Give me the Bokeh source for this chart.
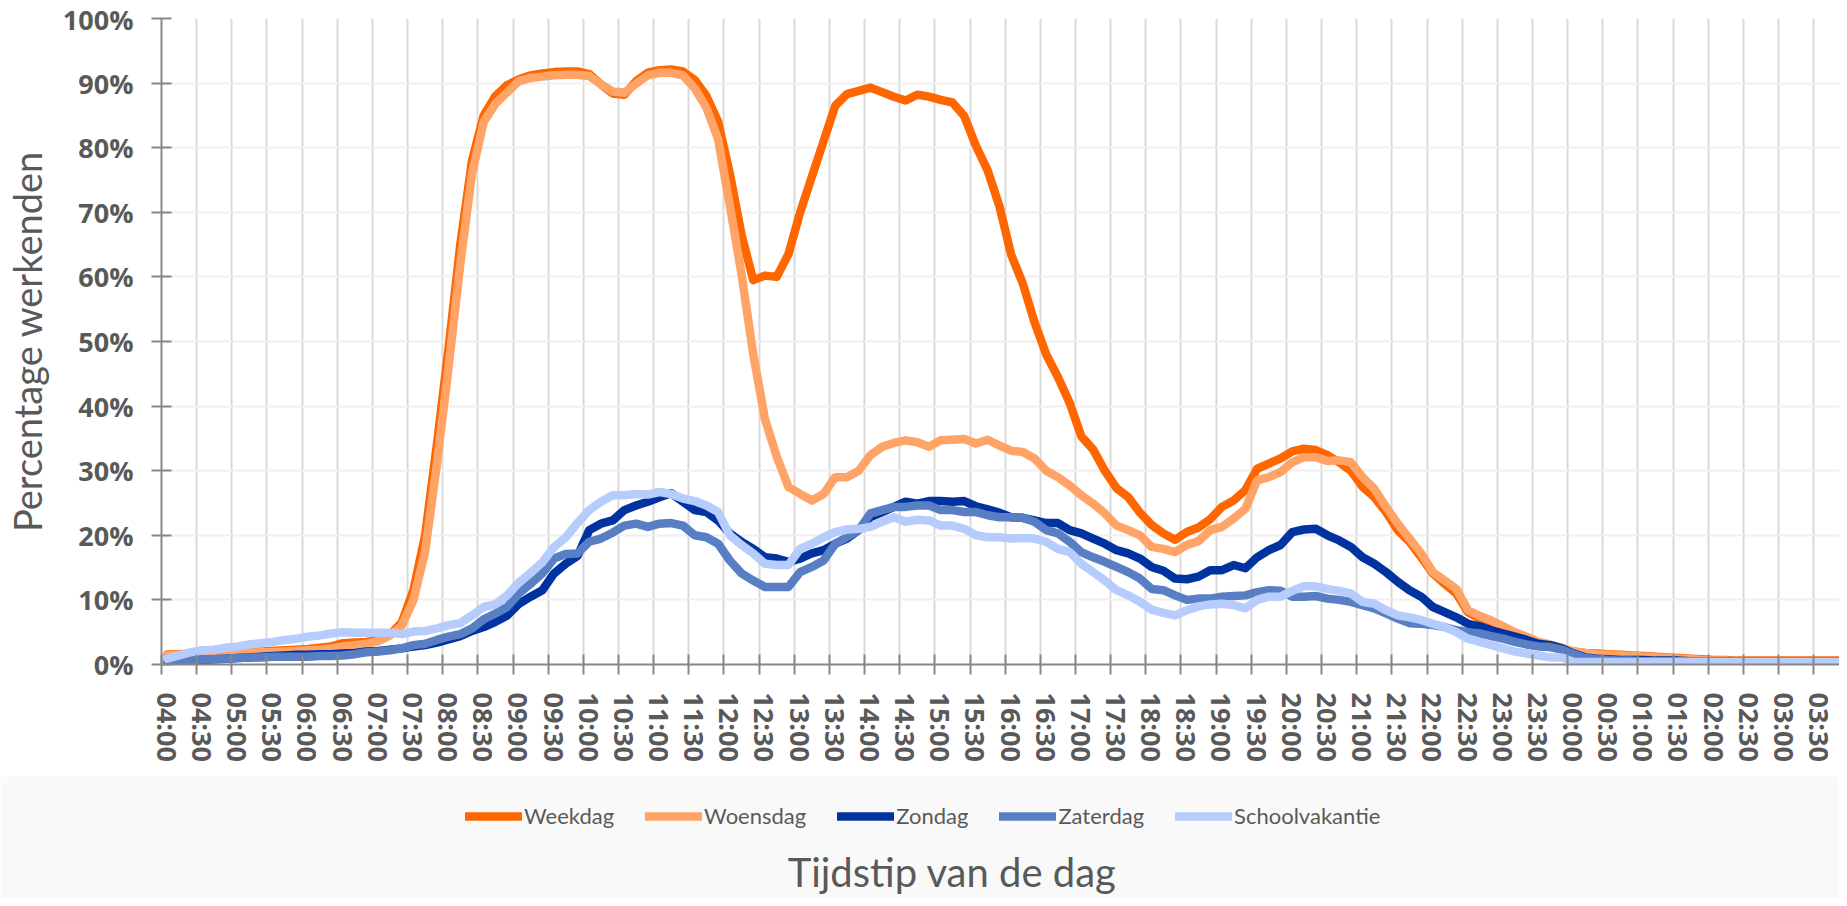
from bokeh.plotting import figure
from bokeh.layouts import column
from bokeh.models import (FixedTicker, Legend, LegendItem, Label,
                          PrintfTickFormatter, Range1d)
from bokeh.embed import file_html
from bokeh.resources import INLINE

# 10-minute slots from 04:00 to 03:50 (next day)
tick_labels = ["04:00", "04:30", "05:00", "05:30", "06:00", "06:30", "07:00", "07:30",
               "08:00", "08:30", "09:00", "09:30", "10:00", "10:30", "11:00", "11:30",
               "12:00", "12:30", "13:00", "13:30", "14:00", "14:30", "15:00", "15:30",
               "16:00", "16:30", "17:00", "17:30", "18:00", "18:30", "19:00", "19:30",
               "20:00", "20:30", "21:00", "21:30", "22:00", "22:30", "23:00", "23:30",
               "00:00", "00:30", "01:00", "01:30", "02:00", "02:30", "03:00", "03:30"]

weekdag = [1.6, 1.6, 1.7, 1.7, 1.8, 1.8, 1.9, 2.0, 2.0, 2.1, 2.2, 2.3, 2.4, 2.6, 2.8, 3.3, 3.4, 3.5,
           3.8, 4.6, 6.5, 11.5, 20.0, 34.0, 49.0, 65.0, 78.0, 85.0, 88.0, 89.7,
           90.6, 91.2, 91.5, 91.7, 91.8, 91.8, 91.4, 89.8, 88.4, 88.2, 90.3, 91.6, 92.0, 92.1, 91.8, 90.5, 88.0, 84.0, 76.0, 66.5, 59.5, 60.2, 60.0, 63.5,
           70.0, 75.5, 81.0, 86.5, 88.3, 88.8, 89.3, 88.6, 87.9, 87.3, 88.2, 87.9, 87.4, 87.0, 84.9, 80.3, 76.5, 71.0, 63.5, 59.0, 53.0, 48.0, 44.5, 40.5, 35.3, 33.3, 30.0, 27.3, 25.9, 23.5, 21.6, 20.3, 19.3, 20.5, 21.2, 22.5,
           24.4, 25.4, 27.0, 30.3, 31.1, 31.9, 33.0, 33.4, 33.2, 32.4, 31.3, 30.0, 27.5, 25.9, 23.6, 20.8, 19.0, 16.6, 14.1, 12.5, 11.0, 8.1, 7.1, 6.3, 5.6, 4.8, 4.0, 3.2, 3.0, 2.5, 2.0, 1.8, 1.7, 1.6, 1.5, 1.4,
           1.3, 1.2, 1.1, 1.0, 0.9, 0.8, 0.7, 0.7, 0.6, 0.6, 0.6, 0.6, 0.6, 0.6, 0.6, 0.6, 0.6, 0.6]

woensdag = [1.5, 1.5, 1.6, 1.6, 1.7, 1.7, 1.8, 1.8, 1.9, 1.9, 2.0, 2.1, 2.2, 2.3, 2.5, 2.8, 3.0, 3.2,
            3.6, 4.5, 6.0, 10.0, 17.5, 31.0, 46.0, 62.0, 76.0, 84.0, 86.8, 88.6,
            90.3, 90.8, 91.0, 91.2, 91.3, 91.3, 91.1, 89.8, 88.7, 88.5, 89.9, 91.2, 91.6, 91.6, 91.2, 89.2, 86.2, 81.3, 71.1, 60.4, 48.0, 38.0, 32.2, 27.5,
            26.4, 25.4, 26.4, 29.0, 29.0, 30.0, 32.4, 33.7, 34.3, 34.7, 34.4, 33.7, 34.7, 34.8, 34.9, 34.2, 34.8, 33.9, 33.1, 32.9, 31.9, 30.0, 29.0, 27.7, 26.2, 24.9, 23.4, 21.5, 20.8, 20.0, 18.2, 17.9, 17.4, 18.5, 19.1, 20.8,
            21.3, 22.6, 24.1, 28.5, 29.0, 29.8, 31.3, 32.1, 32.1, 31.5, 31.6, 31.3, 29.0, 27.2, 24.4, 21.8, 19.5, 17.2, 14.3, 13.0, 11.7, 8.4, 7.5, 6.8, 5.9, 5.0, 4.3, 3.5, 3.1, 2.6, 2.0, 1.8, 1.6, 1.5, 1.4, 1.3,
            1.2, 1.1, 1.0, 0.9, 0.8, 0.7, 0.6, 0.6, 0.5, 0.5, 0.5, 0.5, 0.5, 0.5, 0.5, 0.5, 0.5, 0.5]

zondag = [0.4, 0.5, 0.6, 0.7, 0.8, 0.9, 1.0, 1.1, 1.2, 1.3, 1.4, 1.5, 1.5, 1.6, 1.6, 1.7, 1.8, 2.0,
          2.1, 2.3, 2.5, 2.8, 3.0, 3.4, 3.9, 4.4, 5.2, 5.8, 6.6, 7.6,
          9.4, 10.5, 11.5, 14.1, 15.6, 16.8, 20.8, 21.8, 22.3, 23.9, 24.6, 25.2, 25.9, 26.5, 25.2, 23.9, 23.6, 22.3, 20.3, 19.0, 17.9, 16.6, 16.4, 15.9,
          16.4, 17.2, 17.7, 18.7, 19.5, 20.8, 22.8, 23.6, 24.4, 25.2, 24.9, 25.3, 25.3, 25.2, 25.3, 24.5, 24.0, 23.5, 22.8, 22.7, 22.3, 21.9, 21.9, 20.8, 20.3, 19.5, 18.7, 17.7, 17.2, 16.4, 15.1, 14.5, 13.3, 13.2, 13.6, 14.6,
          14.6, 15.4, 14.9, 16.6, 17.7, 18.5, 20.5, 20.9, 21.0, 20.0, 19.2, 18.2, 16.6, 15.6, 14.3, 12.8, 11.5, 10.5, 8.9, 8.1, 7.3, 6.3, 5.9, 5.3, 4.8, 4.3, 3.8, 3.2, 3.0, 2.5, 1.7, 1.1, 0.9, 0.8, 0.7, 0.7,
          0.7, 0.6, 0.6, 0.6, 0.5, 0.5, 0.5, 0.5, 0.5, 0.5, 0.5, 0.5, 0.5, 0.5, 0.5, 0.5, 0.5, 0.5]

zaterdag = [0.6, 0.6, 0.7, 0.8, 0.8, 0.9, 1.0, 1.1, 1.1, 1.2, 1.2, 1.2, 1.2, 1.3, 1.3, 1.4, 1.6, 1.9,
            2.0, 2.2, 2.5, 3.0, 3.2, 3.8, 4.3, 4.7, 5.6, 7.0, 7.9, 8.9,
            11.0, 12.5, 14.1, 16.4, 17.1, 17.2, 19.0, 19.5, 20.4, 21.5, 21.8, 21.3, 21.8, 21.9, 21.5, 20.0, 19.7, 18.7, 16.1, 14.1, 13.0, 12.0, 12.0, 12.0,
            14.3, 15.1, 16.1, 18.7, 19.7, 20.8, 23.4, 23.9, 24.4, 24.4, 24.6, 24.6, 23.9, 23.9, 23.6, 23.6, 23.1, 22.8, 22.8, 22.7, 22.1, 20.8, 20.3, 19.0, 17.4, 16.6, 15.9, 15.1, 14.3, 13.3, 11.7, 11.5, 10.7, 10.0, 10.2, 10.2,
            10.5, 10.6, 10.7, 11.2, 11.5, 11.4, 10.5, 10.5, 10.6, 10.2, 10.0, 9.7, 9.2, 8.7, 7.9, 7.1, 6.4, 6.3, 6.1, 5.8, 5.3, 5.0, 4.8, 4.4, 4.0, 3.5, 3.1, 2.8, 2.7, 2.3, 1.6, 1.0, 0.8, 0.7, 0.6, 0.6,
            0.5, 0.5, 0.5, 0.5, 0.5, 0.5, 0.5, 0.5, 0.5, 0.5, 0.5, 0.5, 0.5, 0.5, 0.5, 0.5, 0.5, 0.5]

schoolvakantie = [0.9, 1.4, 1.9, 2.2, 2.3, 2.6, 2.8, 3.1, 3.3, 3.5, 3.8, 4.0, 4.3, 4.5, 4.8, 5.0, 4.9, 4.9,
                  4.9, 4.9, 4.7, 5.1, 5.2, 5.6, 6.1, 6.4, 7.6, 8.9, 9.3, 10.7,
                  12.7, 14.2, 15.8, 18.2, 19.7, 21.9, 23.9, 25.2, 26.2, 26.2, 26.4, 26.3, 26.7, 26.4, 25.7, 25.3, 24.6, 23.6, 20.0, 18.5, 17.2, 15.6, 15.4, 15.4,
                  17.9, 18.7, 19.7, 20.5, 20.9, 21.0, 21.3, 22.1, 22.8, 22.1, 22.4, 22.3, 21.5, 21.5, 21.0, 20.0, 19.7, 19.7, 19.5, 19.6, 19.5, 19.0, 17.9, 17.4, 15.6, 14.3, 13.0, 11.5, 10.7, 9.7, 8.5, 8.0, 7.6, 8.4, 9.0, 9.3,
                  9.4, 9.2, 8.7, 10.0, 10.5, 10.5, 11.4, 12.1, 12.1, 11.7, 11.4, 11.0, 9.7, 9.4, 8.4, 7.6, 7.3, 6.9, 6.3, 5.8, 5.0, 4.0, 3.5, 3.0, 2.5, 2.0, 1.7, 1.4, 1.1, 1.1, 0.4, 0.4, 0.4, 0.4, 0.4, 0.4,
                  0.4, 0.4, 0.4, 0.4, 0.4, 0.4, 0.4, 0.4, 0.4, 0.4, 0.4, 0.4, 0.4, 0.4, 0.4, 0.4, 0.4, 0.4]

series_names = ["Weekdag", "Woensdag", "Zondag", "Zaterdag", "Schoolvakantie"]
series_values = [weekdag, woensdag, zondag, zaterdag, schoolvakantie]
series_colors = ["#FF6600", "#FFA366", "#0033A0", "#587FC4", "#B6CCFC"]

slots = list(range(len(weekdag)))

TXT = "#595959"
AX = "#878787"
LW = 8.5

# ---------------- main chart ----------------
p = figure(width=1839, height=776, output_backend="svg", toolbar_location=None,
           x_range=Range1d(-0.5, 142.7), y_range=Range1d(0, 100),
           min_border_left=156, min_border_right=0, min_border_top=18,
           min_border_bottom=112)
p.outline_line_color = None
p.background_fill_color = "white"
p.border_fill_color = "white"

p.xgrid.ticker = FixedTicker(ticks=[3 * j - 0.5 for j in range(len(tick_labels))])
p.xgrid.grid_line_color = "#D9D9D9"
p.xgrid.grid_line_width = 2
p.ygrid.ticker = FixedTicker(ticks=list(range(0, 101, 10)))
p.ygrid.grid_line_color = "#EFEFEF"
p.ygrid.grid_line_width = 2

xa = p.xaxis[0]
xa.ticker = FixedTicker(ticks=[3 * j for j in range(len(tick_labels))],
                        minor_ticks=[3 * j - 0.5 for j in range(len(tick_labels))])
xa.major_label_overrides = {3 * j: lab for j, lab in enumerate(tick_labels)}
xa.major_label_orientation = "vertical"
xa.major_tick_line_color = None
xa.major_tick_in = 0
xa.major_tick_out = 0
xa.minor_tick_line_color = AX
xa.minor_tick_line_width = 2
xa.minor_tick_in = 10
xa.minor_tick_out = 10
xa.axis_line_color = AX
xa.axis_line_width = 2
xa.major_label_standoff = 18
xa.major_label_text_font = "Open Sans"
xa.major_label_text_font_style = "bold"
xa.major_label_text_font_size = "27px"
xa.major_label_text_color = TXT

ya = p.yaxis[0]
ya.ticker = FixedTicker(ticks=list(range(0, 101, 10)))
ya.formatter = PrintfTickFormatter(format="%d%%")
ya.major_tick_in = 10
ya.major_tick_out = 10
ya.major_tick_line_color = AX
ya.major_tick_line_width = 2
ya.minor_tick_line_color = None
ya.axis_line_color = AX
ya.axis_line_width = 2
ya.major_label_standoff = 18
ya.major_label_text_font = "Open Sans"
ya.major_label_text_font_style = "bold"
ya.major_label_text_font_size = "27px"
ya.major_label_text_color = TXT
ya.axis_label = "Percentage werkenden"
ya.axis_label_text_font = "Lato"
ya.axis_label_text_font_style = "normal"
ya.axis_label_text_font_size = "38px"
ya.axis_label_text_color = TXT
ya.axis_label_standoff = 10

for name, vals, col in zip(series_names, series_values, series_colors):
    p.line(slots, vals, line_color=col, line_width=LW,
           line_join="round", line_cap="round")

# ---------------- legend + x-axis title strip ----------------
# 1 data unit = 1 px; the series themselves lie outside this strip's y range,
# so only their legend glyphs show.
H2 = 122
q = figure(width=1839, height=H2, output_backend="svg", toolbar_location=None,
           x_range=Range1d(0, 1683), y_range=Range1d(200, 200 + H2),
           x_axis_location=None, y_axis_location=None,
           min_border_left=156, min_border_right=0, min_border_top=0,
           min_border_bottom=0)
q.outline_line_color = None
q.grid.visible = False
q.background_fill_color = "#F9F9F9"
q.border_fill_color = "#F9F9F9"

items = []
for name, vals, col in zip(series_names, series_values, series_colors):
    r = q.line(slots, vals, line_color=col, line_width=LW, line_cap="round")
    items.append(LegendItem(label=name, renderers=[r]))

legend = Legend(items=items, orientation="horizontal", location=(304, 69),
                glyph_width=57, glyph_height=26, label_standoff=2, spacing=31,
                padding=5, margin=0, border_line_color=None,
                background_fill_alpha=0,
                label_text_font="Lato", label_text_font_size="22px",
                label_text_color=TXT)
q.add_layout(legend, "center")

q.add_layout(Label(text="Tijdstip van de dag", x=628, y=200 + 27,
                   text_align="left", text_baseline="middle",
                   text_font="Lato", text_font_size="40px",
                   text_color=TXT))

open("out.html", "w").write(file_html(column(p, q, spacing=0), INLINE))
